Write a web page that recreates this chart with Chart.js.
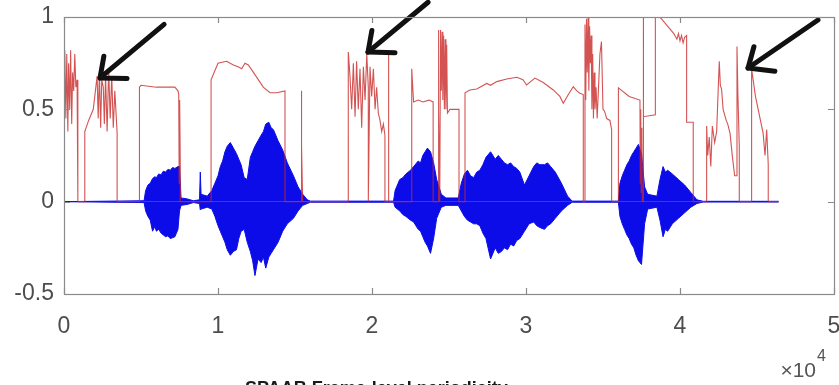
<!DOCTYPE html>
<html>
<head>
<meta charset="utf-8">
<script src="https://cdn.jsdelivr.net/npm/chart.js@4.4.1/dist/chart.umd.min.js"></script>
<style>
  html,body{margin:0;padding:0;background:#fff;overflow:hidden}
  #wrap{width:839px;height:385px;position:relative}
</style>
</head>
<body>
<div id="wrap"><canvas id="c" width="839" height="385"></canvas></div>
<script>
// axis ticks (x in units of 10^4 samples)
const xTicks = [0, 1, 2, 3, 4, 5];
const yTicks = [-0.5, 0, 0.5, 1];
const yTickLabels = ['-0.5', '0', '0.5', '1'];

// red trace (frame-level measure)
const redX = [0,0.005,0.012,0.018,0.025,0.03,0.037,0.043,0.05,0.056,0.063,0.07,0.077,0.085,0.09,0.09,
  0.135,0.135,0.16,0.19,0.215,0.222,0.23,0.238,0.245,0.255,0.262,0.27,0.28,0.29,0.3,0.31,0.32,0.33,0.345,0.345,
  0.49,0.49,0.5,0.6,0.72,0.74,0.745,0.748,0.751,0.755,0.755,
  0.955,0.955,0.97,1.0,1.056,1.1,1.13,1.154,1.175,1.197,1.23,1.294,1.338,1.38,1.435,1.435,
  1.54,1.54,1.545,1.55,
  1.846,1.846,1.857,1.868,1.879,1.89,1.9,1.911,1.922,1.933,1.944,1.955,1.966,1.976,1.976,1.987,1.998,2.009,2.02,2.03,2.041,2.052,2.063,2.074,2.084,2.084,2.106,2.106,2.11,
  2.258,2.258,2.27,2.3,2.33,2.37,2.397,2.397,
  2.43,2.43,2.435,2.44,2.445,2.45,2.455,2.46,2.465,2.47,2.475,2.48,2.485,2.49,2.506,2.565,2.565,
  2.604,2.604,2.636,2.68,2.745,2.77,2.81,2.875,2.94,2.98,3.004,3.03,3.058,3.112,3.177,3.22,3.242,3.275,3.307,3.33,3.35,3.372,3.372,
  3.383,3.383,3.388,3.393,3.398,3.403,3.408,3.413,3.418,3.423,3.428,3.433,3.438,3.443,3.448,3.455,3.462,3.47,3.48,3.49,3.5,3.51,3.524,3.545,3.556,3.556,
  3.6,3.6,3.67,3.74,3.742,3.745,3.748,3.752,3.755,3.76,3.76,3.765,3.84,3.84,3.88,3.96,3.98,3.99,4.0,4.01,4.02,4.03,4.043,4.043,4.086,4.086,
  4.173,4.173,4.18,4.19,4.2,4.21,4.225,4.238,4.255,4.262,4.27,4.28,4.3,4.31,4.325,4.34,4.355,4.364,4.37,4.376,4.385,4.385,
  4.465,4.465,4.49,4.54,4.552,4.563,4.573,4.573,4.64];
const redY = [0.55,0.82,0.45,0.8,0.38,0.75,0.5,0.82,0.42,0.7,0.6,0.8,0.62,0.66,0.66,0,
  0,0.38,0.44,0.5,0.68,0.45,0.7,0.4,0.66,0.62,0.42,0.68,0.38,0.72,0.45,0.68,0.4,0.6,0.37,0,
  0,0.62,0.63,0.62,0.62,0.6,0.58,0.1,0.55,0.2,0,
  0,0.66,0.69,0.75,0.76,0.74,0.73,0.72,0.75,0.74,0.7,0.62,0.59,0.59,0.6,0,
  0,0.6,0.3,0,
  0,0.81,0.68,0.5,0.75,0.46,0.76,0.5,0.72,0.4,0.73,0.55,0.8,0.62,0,0.73,0.57,0.72,0.5,0.62,0.48,0.44,0.38,0.42,0.36,0,0,0.8,0,
  0,0.72,0.54,0.55,0.54,0.55,0.54,0,
  0,0.93,0.5,0,0.93,0.6,0.92,0.55,0.9,0.5,0.88,0.5,0.85,0.48,0.5,0.5,0,
  0,0.59,0.605,0.61,0.64,0.63,0.65,0.664,0.674,0.66,0.632,0.65,0.669,0.645,0.605,0.57,0.533,0.58,0.623,0.6,0.587,0.58,0,
  0,0.96,0.55,0.99,0.7,1.0,0.6,0.95,0.75,0.9,0.5,0.8,0.45,0.7,0.5,0.62,0.45,0.6,0.8,0.867,0.5,0.49,0.45,0.44,0.39,0,
  0,0.616,0.57,0.55,0.1,0.5,0.05,0.4,0,0,1.08,0.46,0.47,1.02,0.99,0.91,0.88,0.91,0.87,0.9,0.86,0.89,0.9,0.43,0.43,0,
  0,0.41,0.25,0.35,0.19,0.41,0.32,0.38,0.76,0.63,0.61,0.5,0.44,0.42,0.37,0.245,0.14,0.14,0.84,0.58,0.3,0,
  0,0.72,0.57,0.37,0.25,0.39,0.2,0,0];

// blue waveform envelope
const blueX = [0,0.52,0.53,0.545,0.56,0.575,0.59,0.6,0.615,0.63,0.645,0.66,0.675,0.69,0.705,0.72,0.74,0.75,0.76,0.8,0.84,0.88,0.885,0.89,0.93,0.96,
  0.98,1.0,1.015,1.03,1.045,1.06,1.08,1.1,1.12,1.135,1.15,1.17,1.19,1.21,1.225,1.24,1.26,1.28,1.295,1.31,1.33,1.345,1.36,1.39,1.42,1.45,1.49,1.52,1.55,1.58,1.6,
  2.14,2.15,2.18,2.2,2.22,2.25,2.27,2.3,2.315,2.33,2.345,2.36,2.38,2.4,2.42,2.45,2.48,2.56,2.58,2.6,2.62,2.64,2.66,2.68,2.7,2.72,2.74,2.77,2.8,2.82,2.84,2.86,2.88,2.9,2.92,2.94,2.96,2.99,
  3.02,3.05,3.07,3.09,3.12,3.14,3.16,3.19,3.23,3.27,3.3,3.6,3.61,3.625,3.64,3.655,3.67,3.685,3.7,3.715,3.73,3.75,3.77,3.79,3.85,3.87,3.89,3.905,3.92,3.95,3.99,4.03,4.07,4.11,4.15,4.64];
const blueUpper = [0,0.005,0.06,0.09,0.1,0.125,0.135,0.13,0.15,0.145,0.165,0.16,0.175,0.17,0.185,0.18,0.19,0.19,0.02,0.015,0.005,0.01,0.16,0.04,0.03,0.06,
  0.1,0.14,0.19,0.22,0.27,0.3,0.32,0.29,0.26,0.23,0.2,0.13,0.12,0.24,0.27,0.3,0.33,0.36,0.38,0.42,0.43,0.4,0.39,0.33,0.28,0.21,0.14,0.08,0.04,0.01,0.003,
  0.003,0.06,0.12,0.13,0.15,0.17,0.19,0.22,0.21,0.25,0.27,0.29,0.27,0.21,0.12,0.04,0.02,0.02,0.1,0.15,0.17,0.14,0.13,0.16,0.17,0.2,0.24,0.27,0.23,0.25,0.23,0.21,0.2,0.21,0.19,0.18,0.16,0.09,
  0.14,0.19,0.21,0.2,0.2,0.21,0.19,0.16,0.1,0.03,0.003,0.003,0.1,0.14,0.17,0.2,0.22,0.25,0.27,0.29,0.31,0.26,0.08,0.04,0.03,0.12,0.19,0.16,0.17,0.15,0.12,0.09,0.05,0.01,0.002,0.002];
const blueLower = [0,-0.005,-0.05,-0.08,-0.1,-0.16,-0.135,-0.16,-0.15,-0.17,-0.18,-0.19,-0.185,-0.2,-0.195,-0.19,-0.15,-0.05,-0.02,-0.015,-0.005,-0.01,-0.045,-0.04,-0.03,-0.04,
  -0.08,-0.13,-0.16,-0.19,-0.22,-0.26,-0.29,-0.27,-0.26,-0.2,-0.16,-0.15,-0.22,-0.27,-0.32,-0.4,-0.31,-0.33,-0.3,-0.36,-0.3,-0.28,-0.26,-0.22,-0.16,-0.12,-0.09,-0.05,-0.02,-0.01,-0.003,
  -0.003,-0.03,-0.05,-0.07,-0.08,-0.1,-0.11,-0.15,-0.16,-0.19,-0.22,-0.24,-0.28,-0.2,-0.09,-0.03,-0.02,-0.02,-0.05,-0.08,-0.1,-0.11,-0.12,-0.12,-0.13,-0.17,-0.2,-0.31,-0.25,-0.28,-0.27,-0.25,-0.26,-0.23,-0.24,-0.21,-0.2,-0.16,
  -0.12,-0.11,-0.13,-0.14,-0.15,-0.13,-0.12,-0.09,-0.05,-0.02,-0.003,-0.003,-0.08,-0.12,-0.15,-0.18,-0.2,-0.23,-0.25,-0.29,-0.32,-0.34,-0.12,-0.04,-0.03,-0.1,-0.19,-0.15,-0.16,-0.12,-0.09,-0.06,-0.03,-0.01,-0.002,-0.002];

// hand-drawn arrows (tip, tail) in data coords
const arrowTips = [[0.234, 0.67], [1.974, 0.81], [4.442, 0.724]];
const arrowTails = [[0.65, 0.96], [2.364, 1.08], [4.896, 0.984]];

const caption = 'SPAAB Frame-level periodicity';

function pts(xs, ys){ return xs.map((x,i)=>({x:x, y:ys[i]})); }

const BLUE = 'rgb(12,12,232)';
const FONT = '"Liberation Sans", Arial, sans-serif';

const decor = {
  id:'decor',
  afterDatasetsDraw(chart){
    const {ctx, scales:{x, y}} = chart;
    ctx.save();
    ctx.strokeStyle = '#111'; ctx.lineWidth = 5; ctx.lineCap = 'round'; ctx.lineJoin = 'round';
    arrowTips.forEach((t,i)=>{
      const tx = x.getPixelForValue(t[0]), ty = y.getPixelForValue(t[1]);
      const ex = x.getPixelForValue(arrowTails[i][0]), ey = y.getPixelForValue(arrowTails[i][1]);
      const ang = Math.atan2(ey-ty, ex-tx);
      ctx.beginPath(); ctx.moveTo(ex,ey); ctx.lineTo(tx,ty); ctx.stroke();
      ctx.beginPath();
      ctx.moveTo(tx + 27*Math.cos(ang+0.72), ty + 27*Math.sin(ang+0.72));
      ctx.lineTo(tx,ty);
      ctx.lineTo(tx + 22*Math.cos(ang-0.7), ty + 22*Math.sin(ang-0.7));
      ctx.stroke();
    });
    ctx.restore();
  },
  afterDraw(chart){
    const {ctx, chartArea:a, scales:{x, y}} = chart;
    ctx.save();
    // box + inward ticks
    ctx.strokeStyle = '#8a8a8a'; ctx.lineWidth = 1.2;
    ctx.strokeRect(a.left+0.5, a.top+0.5, a.right-a.left, a.bottom-a.top);
    ctx.beginPath();
    xTicks.forEach(v=>{ const px = Math.round(x.getPixelForValue(v))+0.5;
      ctx.moveTo(px,a.bottom); ctx.lineTo(px,a.bottom-6);
      ctx.moveTo(px,a.top); ctx.lineTo(px,a.top+6); });
    yTicks.forEach(v=>{ const py = Math.round(y.getPixelForValue(v))+0.5;
      ctx.moveTo(a.left,py); ctx.lineTo(a.left+6,py);
      ctx.moveTo(a.right,py); ctx.lineTo(a.right-6,py); });
    ctx.stroke();
    // tick labels
    ctx.fillStyle = '#4d4d4d';
    ctx.font = '23px ' + FONT;
    ctx.textBaseline = 'middle';
    ctx.textAlign = 'center';
    xTicks.forEach(v=> ctx.fillText(String(v), x.getPixelForValue(v), a.bottom + 33));
    ctx.textAlign = 'right';
    yTicks.forEach((v,i)=> ctx.fillText(yTickLabels[i], a.left - 10, y.getPixelForValue(v)));
    // x10^4 exponent
    ctx.fillStyle = '#555';
    ctx.textBaseline = 'alphabetic';
    ctx.font = '21px ' + FONT;
    ctx.fillText('\u00d710', a.right-18, 377);
    ctx.font = '16px ' + FONT;
    ctx.textAlign = 'left';
    ctx.fillText('4', a.right-17, 361);
    // caption, cut by the bottom edge
    ctx.fillStyle = '#1a1a1a';
    ctx.font = 'bold 18px ' + FONT;
    ctx.fillText(caption, 245, 394);
    ctx.restore();
  }
};

new Chart(document.getElementById('c'), {
  type:'line',
  data:{
    datasets:[
      {label:'measure', data:pts(redX, redY), borderColor:'rgba(200,40,40,0.8)', borderWidth:1.1, pointRadius:0, fill:false, tension:0, order:0},
      {label:'upper', data:pts(blueX, blueUpper), borderColor:BLUE, backgroundColor:BLUE, borderWidth:1, pointRadius:0, fill:'origin', tension:0, order:1},
      {label:'lower', data:pts(blueX, blueLower), borderColor:BLUE, backgroundColor:BLUE, borderWidth:1, pointRadius:0, fill:'origin', tension:0, order:1}
    ]
  },
  options:{
    responsive:false, animation:false, events:[],
    layout:{padding:{left:0, right:5, top:17, bottom:0}},
    plugins:{legend:{display:false}, tooltip:{enabled:false}},
    scales:{
      x:{type:'linear', min:0, max:5,
        afterFit(s){ s.height = 91; },
        grid:{display:false, drawTicks:false}, border:{display:false},
        ticks:{display:false, stepSize:1}},
      y:{min:-0.5, max:1,
        afterFit(s){ s.width = 64; },
        grid:{display:false, drawTicks:false}, border:{display:false},
        ticks:{display:false, stepSize:0.5}}
    }
  },
  plugins:[decor]
});
</script>
</body>
</html>
